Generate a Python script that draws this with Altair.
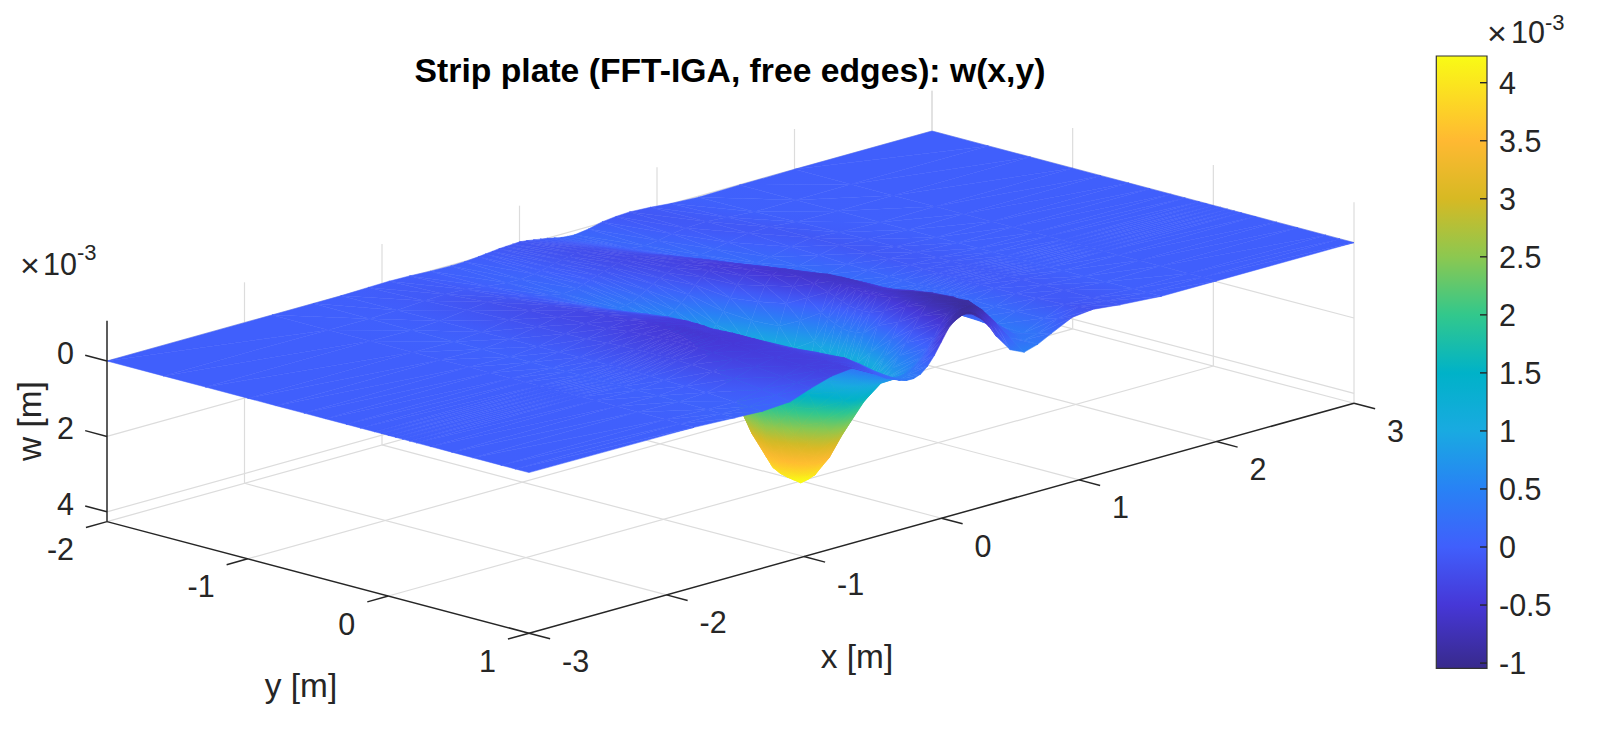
import altair as alt
import numpy as np

FONT = "Liberation Sans"
W, H = 1584, 735

x_grid = [-3, -1.8, -1.5, -1.3, -1.1, -.95, -.8, -.65, -.5, -.4, -.3,
          -.25, -.2, -.15, -.1, -.05, 0, .05, .1, .15, .2, .25, .3, .35, .4,
          .5, .6, .7, .8, .95, 1.1, 1.3, 1.6, 2, 3]
y_grid = [-2, -1.6, -1.3, -1, -.8, -.6, -.45, -.3, -.2, -.1, -.05, 0, .05, .1, .15, .2, .3, .45, .6, .8, .9, 1]

# w [1e-3 m], one row per y_grid value
w_rows = [
 [0,0,0,0,-.02,-.03,-.02,.01,.02,.01,-.02, -.04,-.06,-.08,-.09,-.1,-.11,-.09,-.06,-.03,0,.04,.08,.1,.11, .06,-.03,-.07,-.09,-.06,-.01,.03,.01,0,0],
 [0,0,.01,-.01,-.06,-.08,-.06,.01,.07,.08,.04, 0,-.04,-.09,-.13,-.17,-.2,-.21,-.21,-.18,-.14,-.08,-.03,.03,.07, .11,.07,-.01,-.06,-.08,-.04,.02,.01,0,0],
 [0,0,.02,-.02,-.11,-.17,-.13,-.02,.11,.17,.13, .07,0,-.06,-.12,-.18,-.24,-.27,-.29,-.28,-.26,-.21,-.15,-.08,-.02, .1,.15,.1,.02,-.07,-.08,-.01,.01,0,0],
 [0,0,.03,-.03,-.15,-.24,-.23,-.1,.1,.26,.35, .34,.28,.19,.08,-.03,-.13,-.22,-.3,-.35,-.38,-.37,-.33,-.26,-.18, -.04,.1,.17,.12,0,-.09,-.03,.01,0,0],
 [0,0,.03,-.04,-.16,-.27,-.3,-.17,.03,.25,.5, .58,.6,.53,.42,.27,.1,-.1,-.26,-.38,-.44,-.46,-.43,-.36,-.28, -.1,.06,.17,.16,.03,-.09,-.04,.01,0,0],
 [0,0,.03,-.04,-.17,-.29,-.35,-.26,-.08,.15,.5, .7,.87,.98,1.0,.9,.7,.4,.1,-.2,-.38,-.5,-.52,-.48,-.4, -.2,0,.15,.18,.06,-.08,-.05,.01,0,0],
 [0,0,.03,-.04,-.18,-.31,-.39,-.33,-.15,.12,.6, .9,1.2,1.45,1.65,1.6,1.4,1.0,.55,.1,-.28,-.5,-.58,-.56,-.48, -.28,-.05,.13,.2,.08,-.07,-.05,.01,0,0],
 [0,0,.03,-.05,-.22,-.38,-.47,-.42,-.18,.2,.95, 1.4,1.9,2.3,2.55,2.6,2.4,1.85,1.25,.6,.05,-.35,-.55,-.6,-.56, -.36,-.1,.12,.2,.1,-.06,-.05,.01,0,0],
 [0,0,.03,-.05,-.24,-.41,-.51,-.46,-.14,.4,1.4, 2.0,2.6,3.05,3.35,3.4,3.15,2.55,1.9,1.1,.4,-.15,-.48,-.6,-.62, -.4,-.12,.1,.2,.1,-.05,-.05,.01,0,0],
 [0,0,.03,-.05,-.25,-.43,-.53,-.47,-.05,.65,1.8, 2.45,3.05,3.55,3.9,4.0,3.85,3.3,2.6,1.7,.85,.15,-.35,-.6,-.64, -.43,-.14,.09,.2,.11,-.05,-.05,.01,0,0],
 [0,0,.03,-.05,-.26,-.44,-.54,-.46,.03,.78,1.95, 2.6,3.2,3.75,4.0,4.1,4.14,3.5,2.8,1.9,1.0,.25,-.28,-.58,-.64, -.45,-.15,.09,.2,.11,-.05,-.05,.01,0,0],
 [0,0,.03,-.05,-.26,-.44,-.54,-.44,.1,.9,2.1, 2.75,3.3,3.8,4.05,4.18,4.31,3.7,3.0,2.1,1.15,.35,-.2,-.55,-.64, -.46,-.15,.08,.2,.12,-.04,-.05,.01,0,0],
 [0,0,.03,-.05,-.26,-.44,-.54,-.45,.05,.78,1.9, 2.55,3.15,3.7,3.95,4.06,4.17,3.7,3.05,2.2,1.25,.42,-.13,-.52,-.62, -.46,-.15,.08,.2,.12,-.04,-.05,.01,0,0],
 [0,0,.03,-.05,-.26,-.44,-.53,-.46,0,.65,1.7, 2.35,2.95,3.5,3.85,3.95,4.0,3.6,3.0,2.2,1.3,.45,-.1,-.48,-.6, -.46,-.15,.09,.21,.12,-.04,-.05,.01,0,0],
 [0,0,.03,-.05,-.26,-.44,-.52,-.47,-.04,.53,1.5, 2.1,2.7,3.2,3.55,3.7,3.72,3.3,2.8,2.05,1.22,.42,-.1,-.48,-.6, -.48,-.16,.09,.22,.12,-.04,-.05,.01,0,0],
 [0,0,.03,-.04,-.25,-.43,-.51,-.47,-.08,.42,1.3, 1.85,2.4,2.9,3.3,3.45,3.45,3.1,2.6,1.9,1.15,.4,-.1,-.5,-.6, -.5,-.18,.1,.24,.13,-.04,-.05,.01,0,0],
 [0,0,.03,-.03,-.24,-.41,-.5,-.47,-.15,.28,.95, 1.4,1.85,2.25,2.6,2.72,2.7,2.4,2.0,1.45,.75,.1,-.25,-.55,-.66, -.58,-.22,.1,.26,.14,-.03,-.06,.01,0,0],
 [0,0,.03,-.02,-.21,-.38,-.45,-.43,-.2,.15,.6, .92,1.25,1.55,1.75,1.78,1.7,1.42,1.05,.65,.25,-.15,-.5,-.7,-.78, -.66,-.28,.12,.3,.15,-.04,-.06,.01,0,0],
 [0,.01,.04,0,-.16,-.33,-.42,-.41,-.25,.05,.4, .6,.8,.97,1.05,1.03,.95,.72,.45,.15,-.15,-.45,-.7,-.82,-.85, -.7,-.3,.15,.33,.13,-.06,-.07,.01,0,0],
 [0,.01,.05,.05,-.07,-.26,-.4,-.4,-.3,-.05,.3, .44,.55,.62,.62,.55,.42,.25,.05,-.2,-.5,-.72,-.88,-.93,-.9, -.55,-.1,.25,.36,.12,-.1,-.07,0,0,0],
 [0,.02,.06,.08,-.02,-.2,-.37,-.39,-.22,.04,.3, .42,.48,.42,.32,.16,-.02,-.25,-.48,-.7,-.86,-.95,-.97,-.9,-.75, -.3,.18,.34,.28,.03,-.14,-.08,0,0,0],
 [0,.02,.07,.1,.05,-.15,-.32,-.38,-.09,.14,.3, .35,.35,.28,.12,-.12,-.42,-.72,-.9,-.98,-1.0,-.9,-.7,-.45,-.15, .3,.47,.36,.17,-.1,-.16,-.08,0,0,0],
]

cb_ticks = [-1, -0.5, 0, 0.5, 1, 1.5, 2, 2.5, 3, 3.5, 4]
x_ticks = [-3, -2, -1, 0, 1, 2, 3]
y_ticks = [-2, -1, 0, 1]
w_ticks = [0, 2, 4]
w_low, w_high = -1.07, 4.26
cb_low, cb_high = -1.045, 4.23

cmap_v = [-1.045, -0.5, 0, 0.5, 1, 1.5, 2, 2.5, 3, 3.5, 4.23]
cmap_c = [(56,42,140), (70,55,215), (64,95,252), (40,130,245), (25,170,225), (0,178,200),
          (50,200,140), (140,200,80), (215,185,35), (255,185,50), (249,251,21)]


def project(x, y, w):
    a, b = x + 3, y + 2
    return 107 + a * 137.5 + b * 140.67, 361 - 38.33 * a + 37.2 * b + 37.7 * w


def colour(v):
    arr = np.array(cmap_c, float)
    rgb = [np.interp(v, cmap_v, arr[:, i]) for i in range(3)]
    return "#%02x%02x%02x" % tuple(int(round(c)) for c in rgb)


def shade(corners):
    pts = np.array(corners, float)
    lo, hi = pts[:, :2].min(0), pts[:, :2].max(0)
    span = np.maximum(hi - lo, 1e-6)
    uv = (pts[:, :2] - lo) / span
    A = np.c_[uv, np.ones(len(pts))]
    coef = np.linalg.lstsq(A, pts[:, 2], rcond=None)[0]
    n = coef[:2]
    n2 = float(n @ n)
    t = uv @ n
    if n2 < 1e-6 or t.max() - t.min() < 0.004:
        return colour(float(pts[:, 2].mean()))
    t0, t1 = float(t.min()), float(t.max())
    p0, p1 = n * t0 / n2, n * t1 / n2
    steps = max(2, int(np.ceil((t1 - t0) / 0.25)) + 1)
    offs = np.linspace(0, 1, steps)
    return {
        "gradient": "linear",
        "x1": round(float(p0[0]), 4), "y1": round(float(p0[1]), 4),
        "x2": round(float(p1[0]), 4), "y2": round(float(p1[1]), 4),
        "stops": [{"offset": round(float(o), 3), "color": colour(coef[2] + t0 + o * (t1 - t0))} for o in offs],
    }


quads = []
qid = 0
for i in range(len(x_grid) - 2, -1, -1):
    for j in range(len(y_grid) - 1):
        # far triangle first, then the near one
        for tri in ([(i, j), (i + 1, j), (i + 1, j + 1)], [(i, j), (i + 1, j + 1), (i, j + 1)]):
            corners = []
            for (ii, jj) in tri:
                px, py = project(x_grid[ii], y_grid[jj], w_rows[jj][ii])
                corners.append((px, py, w_rows[jj][ii]))
            g = shade(corners)
            for k, c in enumerate(corners + corners[:1]):
                quads.append({"q": qid, "k": k, "px": round(c[0], 2), "py": round(c[1], 2), "g": g})
            qid += 1

xs = alt.Scale(domain=[8, 8 + W], range=[0, W], nice=False, zero=False)
ys = alt.Scale(domain=[8 + H, 8], range=[H, 0], nice=False, zero=False)
X = lambda f: alt.X(f, type="quantitative", scale=xs, axis=None)
Y = lambda f: alt.Y(f, type="quantitative", scale=ys, axis=None)


def segs(lst):
    rows = []
    for (p, q) in lst:
        a, b = project(*p), project(*q)
        rows.append({"x1": a[0], "y1": a[1], "x2": b[0], "y2": b[1]})
    return rows


def rule_layer(lst, color, width):
    return alt.Chart(alt.Data(values=segs(lst))).mark_rule(color=color, strokeWidth=width).encode(
        x=X("x1"), y=Y("y1"), x2=alt.X2("x2"), y2=alt.Y2("y2"))


grid = []
for x in x_ticks[1:]:
    grid.append(((x, -2, w_high), (x, 1, w_high)))
    grid.append(((x, -2, w_low), (x, -2, w_high)))
for y in y_ticks[:-1]:
    grid.append(((-3, y, w_high), (3, y, w_high)))
for y in y_ticks:
    grid.append(((3, y, w_low), (3, y, w_high)))
for w in w_ticks:
    grid.append(((-3, -2, w), (3, -2, w)))
    grid.append(((3, -2, w), (3, 1, w)))

axes = [((-3, -2, w_low), (-3, -2, w_high)), ((-3, -2, w_high), (-3, 1, w_high)), ((-3, 1, w_high), (3, 1, w_high))]
for x in x_ticks:
    axes.append(((x, 1, w_high), (x, 1.15, w_high)))
for y in y_ticks:
    axes.append(((-3, y, w_high), (-3.153, y, w_high)))
for w in w_ticks:
    axes.append(((-3, -2, w), (-3, -2.155, w)))

TICK = 30.5
texts = []
for x in x_ticks:
    p = project(x, 1, w_high)
    texts.append({"t": str(x), "px": p[0] + 33, "py": p[1] + 29.5})
text_left = alt.Chart(alt.Data(values=texts)).mark_text(font=FONT, fontSize=TICK, align="left", baseline="middle", color="#262626").encode(
    x=X("px"), y=Y("py"), text="t:N")
texts = []
for y in y_ticks:
    p = project(-3, y, w_high)
    texts.append({"t": str(y), "px": p[0] - 33, "py": p[1] + 29.5})
for w in w_ticks:
    p = project(-3, -2, w)
    texts.append({"t": str(w), "px": p[0] - 33, "py": p[1] - 6})
text_right = alt.Chart(alt.Data(values=texts)).mark_text(font=FONT, fontSize=TICK, align="right", baseline="middle", color="#262626").encode(
    x=X("px"), y=Y("py"), text="t:N")


def label(t, px, py, size=33.4, angle=0, weight="normal", align="center", color="#262626"):
    return alt.Chart(alt.Data(values=[{"t": t, "px": px, "py": py}])).mark_text(
        font=FONT, fontSize=size, angle=angle, fontWeight=weight, align=align, baseline="middle", color=color
    ).encode(x=X("px"), y=Y("py"), text="t:N")


labels = [
    label("Strip plate (FFT-IGA, free edges): w(x,y)", 730, 72, size=33.7, weight="bold", color="#000000"),
    label("x [m]", 857, 658),
    label("y [m]", 301, 687),
    label("w [m]", 31, 421, angle=270),
    label("×", 30, 267, size=34),
    label("10", 43, 266, size=TICK, align="left"),
    label("-3", 77, 253, size=22, align="left"),
    label("×", 1497, 35, size=34),
    label("10", 1511, 34, size=TICK, align="left"),
    label("-3", 1545, 23, size=22, align="left"),
]

surface = alt.Chart(alt.Data(values=quads)).mark_line(strokeWidth=0.5, interpolate="linear").encode(
    x=X("px"), y=Y("py"),
    detail="q:N",
    order=alt.Order("k:Q"),
    fill=alt.Fill("g:N", scale=None),
    stroke=alt.Stroke("g:N", scale=None),
)

main = alt.layer(
    rule_layer(grid, "#dcdcdc", 1.2),
    surface,
    rule_layer(axes, "#262626", 1.5),
    text_left, text_right, *labels,
)

cb_scale = alt.Scale(domain=[cb_low, cb_high], range=[668.3 - 8, 56 - 8], nice=False, zero=False)
grad = alt.Gradient(
    gradient="linear", x1=0, x2=0, y1=1, y2=0,
    stops=[alt.GradientStop(color=colour(v), offset=(v - cb_low) / (cb_high - cb_low)) for v in cmap_v],
)
cb_rect = alt.Chart(alt.Data(values=[{"v0": cb_low, "v1": cb_high}])).mark_rect(
    fill=grad, stroke="#333333", strokeWidth=1.2
).encode(
    y=alt.Y("v0:Q", scale=cb_scale, axis=None),
    y2=alt.Y2("v1:Q"),
    x=alt.value(1436.3 - 8), x2=alt.value(1487 - 8),
)
cb_tick = alt.Chart(alt.Data(values=[{"v": v} for v in cb_ticks])).mark_rule(color="#262626", strokeWidth=1.4).encode(
    y=alt.Y("v:Q", scale=cb_scale, axis=None),
    x=alt.value(1480 - 8), x2=alt.value(1487 - 8),
)
cb_text = alt.Chart(alt.Data(values=[{"v": v, "t": str(v)} for v in cb_ticks])).mark_text(
    font=FONT, fontSize=TICK, align="left", baseline="middle", color="#262626", dy=2
).encode(
    y=alt.Y("v:Q", scale=cb_scale, axis=None),
    x=alt.value(1499 - 8),
    text="t:N",
)
colourbar = alt.layer(cb_rect, cb_tick, cb_text)

chart = alt.layer(main, colourbar).resolve_scale(x="independent", y="independent").properties(
    width=W, height=H, padding=0, autosize="none", background="white",
).configure_view(stroke=None)

chart.save("out.html", embed_options={"renderer": "svg", "actions": False})
